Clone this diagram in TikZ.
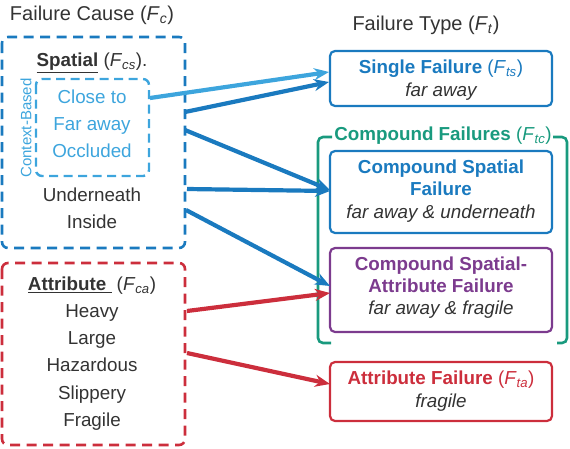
\documentclass[tikz,border=0pt]{standalone}
\usepackage{fontspec}
\setmainfont{Liberation Sans}
\usetikzlibrary{arrows.meta,calc}
\definecolor{dblue}{HTML}{1A7ABF}
\definecolor{lblue}{HTML}{3DA5DD}
\definecolor{cred}{HTML}{CC2E3C}
\definecolor{cgreen}{HTML}{199A7E}
\definecolor{cpurple}{HTML}{7C3B8E}
\definecolor{ctext}{HTML}{333333}
\newcommand{\FF}[1]{\textit{F}\textsubscript{\textit{#1}}}
\begin{document}
\begin{tikzpicture}[x=1pt,y=-1pt,
  txt/.style={font=\fontsize{18.8}{22}\selectfont, text=ctext, inner sep=0pt, anchor=center, text height=13.5pt, text depth=0pt},
  hd/.style={font=\fontsize{18.8}{22}\selectfont\bfseries, inner sep=0pt, anchor=center, text height=13.5pt, text depth=0pt},
  it/.style={font=\fontsize{18.8}{22}\selectfont\itshape, text=ctext, inner sep=0pt, anchor=center, text height=13.5pt, text depth=0pt},
  dbox/.style={draw, dashed, dash pattern=on 10pt off 6.5pt, line width=2.6pt, rounded corners=6pt},
  sbox/.style={draw, line width=2.2pt, rounded corners=5pt},
  arr/.style={line width=4.2pt, -{Stealth[length=15pt,width=12pt]}, shorten >=0pt}
]
\useasboundingbox (0,0) rectangle (570,448);
% left titles
\node[txt, font=\fontsize{20}{23}\selectfont, text height=14.3pt] (tc) at (92,13) {Failure Cause (\FF{c})};
\node[txt, font=\fontsize{20}{23}\selectfont, text height=14.3pt] (tt) at (426,23) {Failure Type (\FF{t})};
% Spatial box
\draw[dbox, dblue] (2,37) rectangle (185,248);
\node[txt] (sph) at (92,60) {\textbf{\underline{Spatial}} (\FF{cs}).};
\draw[dbox, lblue, line width=2.4pt, dash pattern=on 9pt off 5.5pt] (36,79) rectangle (149,176);
\node[txt, text=lblue, rotate=90, font=\fontsize{15}{17}\selectfont, text height=10.7pt, text depth=0pt] (ctx) at (26,128) {Context-Based};
\node[txt, text=lblue] (c1) at (92,97) {Close to};
\node[txt, text=lblue] (c2) at (92,124) {Far away};
\node[txt, text=lblue] (c3) at (92,151) {Occluded};
\node[txt] (u1) at (92,195) {Underneath};
\node[txt] (u2) at (92,222) {Inside};
% Attribute box
\draw[dbox, cred] (2,263) rectangle (185,445);
\node[txt] (ath) at (92,284) {\textbf{\underline{Attribute\ }} (\FF{ca})};
\node[txt] (a1) at (92,311) {Heavy};
\node[txt] (a2) at (92,338) {Large};
\node[txt] (a3) at (92,365) {Hazardous};
\node[txt] (a4) at (92,393) {Slippery};
\node[txt] (a5) at (92,420) {Fragile};
% right side boxes
\draw[sbox, dblue] (330,51) rectangle (552,106);
\node[hd, text=dblue] (sf) at (441,67) {Single Failure \textmd{(\FF{ts})}};
\node[it] (sf2) at (441,90) {far away};
% compound brackets
\draw[line width=2.6pt, cgreen, rounded corners=5pt] (332,137) -- (318,137) -- (318,343) -- (331,343);
\draw[line width=2.6pt, cgreen, rounded corners=5pt] (553,137) -- (567,137) -- (567,343) -- (557,343);
\node[hd, text=cgreen] (cf) at (443,134) {Compound Failures \textmd{(\FF{tc})}};
\draw[sbox, dblue] (330,151) rectangle (552,233);
\node[hd, text=dblue] (cs1) at (441,167) {Compound Spatial};
\node[hd, text=dblue] (cs2) at (441,189) {Failure};
\node[it] (cs3) at (441,212) {far away \& underneath};
\draw[sbox, cpurple] (330,248) rectangle (552,332);
\node[hd, text=cpurple] (ca1) at (441,264) {Compound Spatial-};
\node[hd, text=cpurple] (ca2) at (441,286) {Attribute Failure};
\node[it] (ca3) at (441,308) {far away \& fragile};
\draw[sbox, cred] (330,362) rectangle (552,421);
\node[hd, text=cred] (af1) at (441,378) {Attribute Failure \textmd{(\FF{ta})}};
\node[it] (af2) at (441,401) {fragile};
% arrow endpoints
\coordinate (p1s) at (150,98);   \coordinate (p1e) at (329,72);
\coordinate (p2s) at (185,112);  \coordinate (p2e) at (329,82);
\coordinate (p3s) at (185,130);  \coordinate (p3e) at (330,190);
\coordinate (p4s) at (187,189);  \coordinate (p4e) at (330,191);
\coordinate (p5s) at (186,210);  \coordinate (p5e) at (330,286);
\coordinate (p6s) at (187,311);  \coordinate (p6e) at (330,293);
\coordinate (p7s) at (187,353);  \coordinate (p7e) at (330,384);
\draw[arr, lblue] (p1s) -- (p1e);
\draw[arr, dblue] (p2s) -- (p2e);
\draw[arr, dblue] (p3s) -- (p3e);
\draw[arr, dblue] (p4s) -- (p4e);
\draw[arr, dblue] (p5s) -- (p5e);
\draw[arr, cred] (p6s) -- (p6e);
\draw[arr, cred] (p7s) -- (p7e);
\end{tikzpicture}
\end{document}
